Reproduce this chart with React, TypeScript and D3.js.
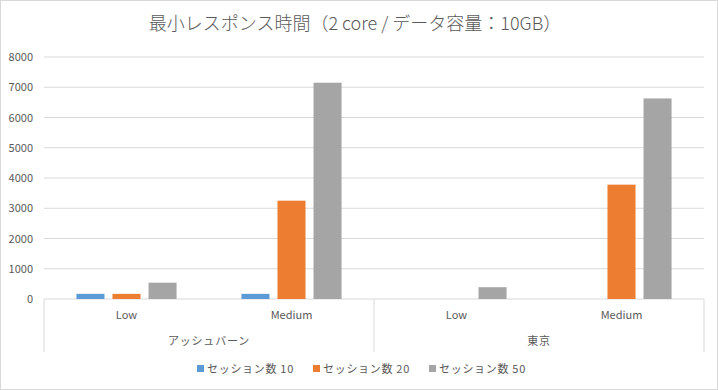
import React from "react";
import * as d3 from "d3";

const title = "最小レスポンス時間（2 core / データ容量：10GB）";
const regions = ["アッシュバーン", "東京"];
const loads = ["Low", "Medium"];
const seriesNames = ["セッション数 10", "セッション数 20", "セッション数 50"];
const session10 = [170, 170, 0, 0];
const session20 = [170, 3250, 0, 3780];
const session50 = [540, 7150, 390, 6630];
const yTicks = [0, 1000, 2000, 3000, 4000, 5000, 6000, 7000, 8000];
const colors = ["#5B9BD5", "#ED7D31", "#A5A5A5"];

export default function App() {
  const W = 718, H = 390;
  const left = 44, right = 704, top = 57, bottom = 299;
  const values = [session10, session20, session50];
  const cats = regions.flatMap((r) => loads.map((l) => `${r}|${l}`));
  const x0 = d3.scaleBand().domain(cats).range([left, right]);
  const x1 = d3.scaleBand().domain(seriesNames).range([0, x0.bandwidth()]).paddingInner(0.222).paddingOuter(0.9);
  const y = d3.scaleLinear().domain([0, 8000]).range([bottom, top]);
  const font = "'Noto Sans CJK JP', 'Noto Sans', sans-serif";
  const txt = "#595959";
  const regionX = d3.scaleBand().domain(regions).range([left, right]);
  const legendX = [197, 313, 429];
  return (
    <svg width={W} height={H} style={{ position: "fixed", left: 0, top: 0, background: "#fff" }} fontFamily={font}>
      <rect x={0.5} y={0.5} width={W - 1} height={H - 1} fill="#fff" stroke="#d9d9d9" />
      <text x={355} y={30} textAnchor="middle" fontSize={18} fill={txt} fontWeight={300}>{title}</text>
      {yTicks.map((t) => (
        <g key={t}>
          <line x1={left} x2={right} y1={y(t)} y2={y(t)} stroke="#d9d9d9" strokeWidth={1} />
          <text x={33} y={y(t) + 4} textAnchor="end" fontSize={11} fill={txt}>{t}</text>
        </g>
      ))}
      {cats.map((c, ci) =>
        seriesNames.map((s, si) => {
          const v = values[si][ci];
          if (!v) return null;
          return (
            <rect key={c + s} x={(x0(c) as number) + (x1(s) as number)} y={y(v)} width={x1.bandwidth()} height={y(0) - y(v)} fill={colors[si]} />
          );
        })
      )}
      {[left, (left + right) / 2, right].map((xv, i) => (
        <line key={i} x1={xv} x2={xv} y1={bottom} y2={352} stroke="#d9d9d9" />
      ))}
      {cats.map((c) => (
        <text key={c} x={(x0(c) as number) + x0.bandwidth() / 2} y={319} textAnchor="middle" fontSize={11} fill={txt}>{c.split("|")[1]}</text>
      ))}
      {regions.map((r) => (
        <text key={r} x={(regionX(r) as number) + regionX.bandwidth() / 2} y={345} textAnchor="middle" fontSize={11} fill={txt} letterSpacing={0.8}>{r}</text>
      ))}
      {seriesNames.map((s, i) => (
        <g key={s}>
          <rect x={legendX[i]} y={365} width={7} height={7} fill={colors[i]} />
          <text x={legendX[i] + 10} y={373} fontSize={11} fill={txt} letterSpacing={0.7}>{s}</text>
        </g>
      ))}
    </svg>
  );
}
